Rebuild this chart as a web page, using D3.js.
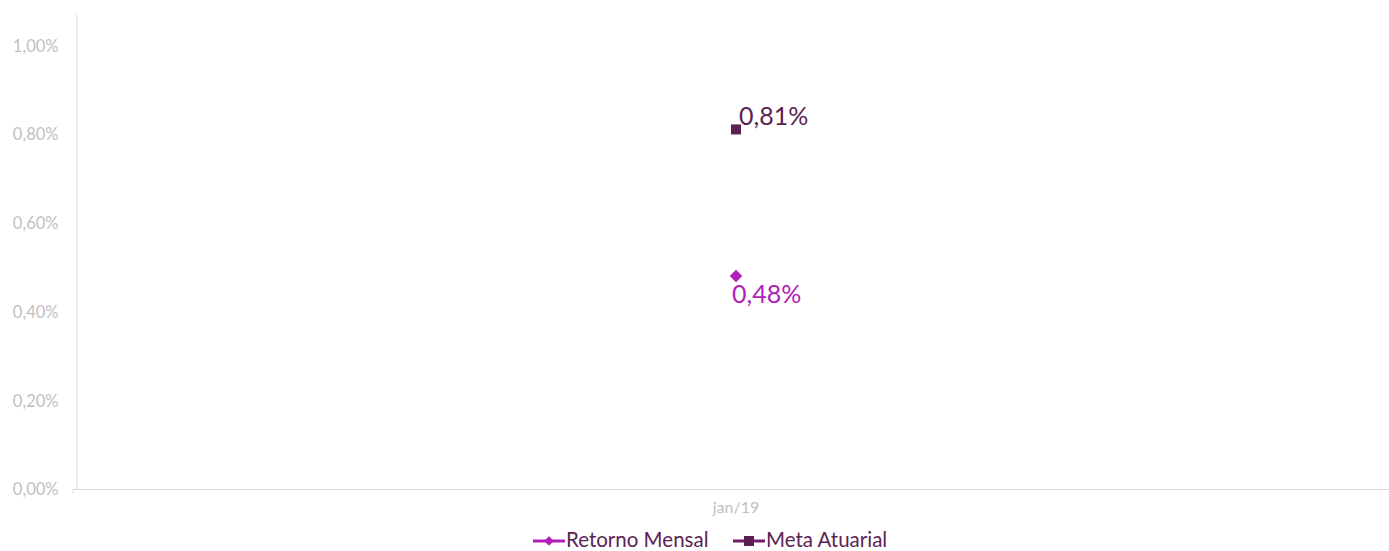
<!DOCTYPE html>
<html><head><meta charset="utf-8">
<script src="https://cdn.jsdelivr.net/npm/d3@7"></script>
<style>body{margin:0;background:#fff}svg{display:block}</style>
</head><body>
<svg id="c" width="1389" height="551"></svg>
<script>
const categories = ["jan/19"];
const retornoMensal = [0.48];
const metaAtuarial = [0.81];
const yTicks = [0, 0.2, 0.4, 0.6, 0.8, 1.0];
const seriesNames = ["Retorno Mensal", "Meta Atuarial"];

const svg = d3.select("#c");
const font = "Lato, 'Open Sans', sans-serif";
const colRet = "#B01EBA", colMeta = "#5C1F52", legText = "#5C2352";
const y = d3.scaleLinear().domain([0, 1.07]).range([489, 14]);
const x = d3.scaleBand().domain(categories).range([83, 1389]);
const fmt = v => d3.format(".2f")(v).replace(".", ",") + "%";

// y axis
const ya = svg.append("g").attr("transform", "translate(76.5,0)")
  .call(d3.axisLeft(y).tickValues(yTicks).tickFormat(fmt).tickSize(0).tickPadding(18));
ya.select(".domain").attr("stroke", "#d9d9d9");
ya.selectAll("text").attr("fill", "#bfbfbf").style("font-family", font).style("font-size", "16.5px").attr("dy", "0.36em");

// x axis
const xa = svg.append("g").attr("transform", "translate(0,489.5)")
  .call(d3.axisBottom(x).tickSize(0).tickPadding(12));
xa.select(".domain").attr("stroke", "#d9d9d9").attr("d", "M73,4V0H1389");
xa.selectAll("text").attr("fill", "#bfbfbf").style("font-family", font).style("font-size", "16px");

const cx = c => x(c) + x.bandwidth() / 2;

// Meta points
svg.selectAll(".meta").data(metaAtuarial).enter().append("rect")
  .attr("x", (d, i) => cx(categories[i]) - 5).attr("y", d => y(d) - 5)
  .attr("width", 10).attr("height", 10).attr("fill", colMeta);
svg.selectAll(".metaLbl").data(metaAtuarial).enter().append("text")
  .attr("x", (d, i) => cx(categories[i]) + 3).attr("y", d => y(d) - 4)
  .attr("fill", colMeta).style("font-family", font).style("font-size", "25px").text(fmt);

// Retorno points
const diamond = d3.symbol().type(d3.symbolDiamond2).size(100);
svg.selectAll(".ret").data(retornoMensal).enter().append("path")
  .attr("d", diamond).attr("transform", (d, i) => `translate(${cx(categories[i])},${y(d)})`)
  .attr("fill", colRet);
svg.selectAll(".retLbl").data(retornoMensal).enter().append("text")
  .attr("x", (d, i) => cx(categories[i]) - 4).attr("y", d => y(d) + 27)
  .attr("fill", colRet).style("font-family", font).style("font-size", "25px").text(fmt);

// legend
const leg = [{name: seriesNames[0], color: colRet, shape: "d", x: 533},
             {name: seriesNames[1], color: colMeta, shape: "s", x: 733}];
const lg = svg.append("g");
leg.forEach(l => {
  const g = lg.append("g").attr("transform", `translate(${l.x},541)`);
  g.append("line").attr("x1", 0).attr("x2", 32).attr("stroke", l.color === colMeta ? "#7A1A6E" : l.color).attr("stroke-width", 3);
  if (l.shape === "d") g.append("path").attr("d", d3.symbol().type(d3.symbolDiamond2).size(60)).attr("transform", "translate(16,0)").attr("fill", l.color);
  else g.append("rect").attr("x", 11).attr("y", -5).attr("width", 10).attr("height", 10).attr("fill", l.color);
  g.append("text").attr("x", 33).attr("y", 6).attr("fill", legText).style("font-family", font).style("font-size", "20.5px").text(l.name);
});
</script>
</body></html>
